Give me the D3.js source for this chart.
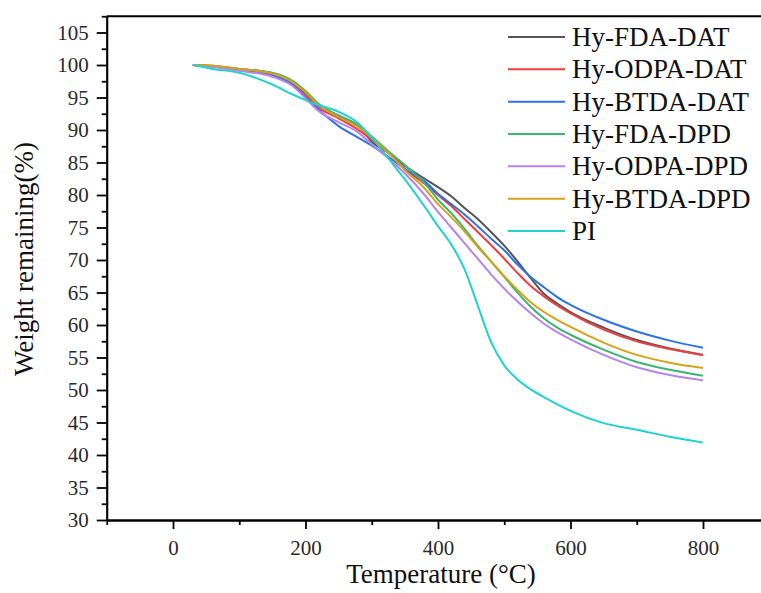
<!DOCTYPE html>
<html>
<head>
<meta charset="utf-8">
<script src="https://cdn.jsdelivr.net/npm/d3@7"></script>
<style>
  body { margin: 0; background: #fff; }
  .axis path, .axis line { stroke: #000; stroke-width: 1.8; }
</style>
</head>
<body>
<svg width="761" height="593"></svg>
<script>
// temperature grid (°C) shared by all curves
const temps = [30, 60, 100, 150, 180, 200, 220, 250, 280, 300, 330, 350, 380, 400, 420, 440, 460, 480, 500, 520, 540, 560, 580, 600, 650, 700, 750, 800];

// weight remaining (%)
const fdaDat  = [100, 99.8, 99.4, 98.7, 97.4, 95.6, 93.8, 92.2, 90.6, 88.2, 86.2, 84.5, 82.5, 81.2, 79.8, 78.0, 76.3, 74.3, 72.2, 69.8, 67.2, 64.8, 63.3, 62.0, 59.6, 57.7, 56.4, 55.4];
const odpaDat = [100, 99.8, 99.2, 98.4, 97.0, 95.2, 93.4, 91.8, 90.0, 88.5, 86.0, 84.0, 81.7, 80.0, 78.3, 76.3, 74.3, 72.3, 70.2, 68.0, 66.0, 64.4, 63.0, 61.8, 59.3, 57.5, 56.3, 55.4];
const btdaDat = [100, 99.8, 99.3, 98.5, 97.0, 95.0, 93.1, 90.6, 88.8, 87.6, 85.5, 84.0, 82.1, 80.2, 78.6, 77.0, 75.2, 73.3, 71.5, 69.3, 67.4, 65.8, 64.3, 63.1, 60.8, 59.0, 57.6, 56.5];
const fdaDpd  = [100, 99.9, 99.4, 98.8, 97.6, 96.0, 94.0, 92.2, 90.7, 89.0, 86.3, 84.6, 81.8, 79.3, 77.2, 74.8, 72.2, 69.8, 67.4, 65.0, 62.8, 61.0, 59.6, 58.5, 56.2, 54.3, 53.1, 52.2];
const odpaDpd = [100, 99.7, 99.1, 98.2, 96.8, 94.9, 92.9, 91.2, 89.6, 87.8, 85.2, 83.3, 80.0, 77.4, 75.0, 72.6, 70.2, 67.8, 65.6, 63.6, 61.8, 60.2, 58.9, 57.8, 55.4, 53.5, 52.3, 51.5];
const btdaDpd = [100, 99.9, 99.4, 98.7, 97.4, 95.8, 93.8, 92.0, 90.4, 88.8, 86.0, 83.8, 81.0, 78.6, 76.6, 74.4, 72.0, 69.8, 67.5, 65.4, 63.5, 62.0, 60.8, 59.7, 57.3, 55.4, 54.2, 53.4];
const pi      = [100, 99.4, 98.8, 97.0, 95.5, 94.6, 93.8, 92.8, 91.0, 88.8, 85.0, 82.4, 78.2, 75.2, 72.4, 68.6, 63.0, 57.4, 53.8, 51.6, 50.1, 48.9, 47.8, 46.8, 44.9, 43.9, 42.8, 41.9];

const seriesNames = ["Hy-FDA-DAT", "Hy-ODPA-DAT", "Hy-BTDA-DAT", "Hy-FDA-DPD", "Hy-ODPA-DPD", "Hy-BTDA-DPD", "PI"];
const seriesValues = [fdaDat, odpaDat, btdaDat, fdaDpd, odpaDpd, btdaDpd, pi];
const colors = ["#555555", "#ef3d3d", "#2f72e6", "#3cb474", "#b584ec", "#d4a21c", "#1fd2d2"];

const xTicks = [0, 200, 400, 600, 800];
const xMinorTicks = [-100, 100, 300, 500, 700];
const yTicks = [30, 35, 40, 45, 50, 55, 60, 65, 70, 75, 80, 85, 90, 95, 100, 105];
const yMinorTicks = [32.5, 37.5, 42.5, 47.5, 52.5, 57.5, 62.5, 67.5, 72.5, 77.5, 82.5, 87.5, 92.5, 97.5, 102.5, 107.5];

const serif = "'Liberation Serif', 'Times New Roman', Times, serif";
const svg = d3.select("svg");

const xScale = d3.scaleLinear().domain([-100, 900]).range([106.75, 769.25]);
const yScale = d3.scaleLinear().domain([30, 107.5]).range([520, 16.25]);

//frame top line
svg.append("line")
  .attr("x1", xScale(-100)).attr("x2", xScale(900))
  .attr("y1", yScale(107.5)).attr("y2", yScale(107.5))
  .attr("stroke", "#000").attr("stroke-width", 1.8);

//minor ticks first, then major axes on top
svg.append("g")
  .attr("class", "axis")
  .attr("transform", `translate(0, ${yScale(30)})`)
  .call(d3.axisBottom(xScale).tickValues(xMinorTicks).tickSize(5).tickSizeOuter(0).tickFormat(""));

const xAxis = svg.append("g")
  .attr("class", "axis")
  .attr("transform", `translate(0, ${yScale(30)})`)
  .call(d3.axisBottom(xScale).tickValues(xTicks).tickSize(9).tickSizeOuter(0).tickPadding(11));

svg.append("g")
  .attr("class", "axis")
  .attr("transform", `translate(${xScale(-100)}, 0)`)
  .call(d3.axisLeft(yScale).tickValues(yMinorTicks).tickSize(5).tickSizeOuter(0).tickFormat(""));

const yAxis = svg.append("g")
  .attr("class", "axis")
  .attr("transform", `translate(${xScale(-100)}, 0)`)
  .call(d3.axisLeft(yScale).tickValues(yTicks).tickSize(10).tickSizeOuter(0).tickPadding(8));

[xAxis, yAxis].forEach(g => {
  g.attr("font-family", null).attr("font-size", null);
  g.selectAll("text")
    .style("font-family", serif)
    .style("font-size", "21px")
    .style("fill", "#2a2a2a");
});

//curves
const line = d3.line()
  .x((d, i) => xScale(temps[i]))
  .y(d => yScale(d))
  .curve(d3.curveMonotoneX);

svg.append("g")
  .selectAll("path")
  .data(seriesValues)
  .enter()
  .append("path")
  .attr("d", d => line(d))
  .attr("fill", "none")
  .attr("stroke", (d, i) => colors[i])
  .attr("stroke-width", 2);

// axis titles
svg.append("text")
  .attr("text-anchor", "middle")
  .attr("x", 441)
  .attr("y", 583)
  .style("font-family", serif)
  .style("font-size", "27px")
  .style("fill", "#111")
  .text("Temperature (°C)");

svg.append("text")
  .attr("text-anchor", "middle")
  .attr("transform", "translate(33, 259)rotate(-90)")
  .style("font-family", serif)
  .style("font-size", "27px")
  .style("fill", "#111")
  .text("Weight remaining(%)");

//legend
const legend = svg.append("g");
const rowY = d3.scaleLinear().domain([0, 6]).range([37, 231]);

seriesNames.forEach((name, i) => {
  legend.append("line")
    .attr("x1", 508).attr("x2", 565)
    .attr("y1", rowY(i)).attr("y2", rowY(i))
    .attr("stroke", colors[i])
    .attr("stroke-width", 2);
  legend.append("text")
    .attr("x", 572)
    .attr("y", rowY(i) + 9)
    .style("font-family", serif)
    .style("font-size", "27px")
    .style("fill", "#111")
    .text(name);
});
</script>
</body>
</html>
